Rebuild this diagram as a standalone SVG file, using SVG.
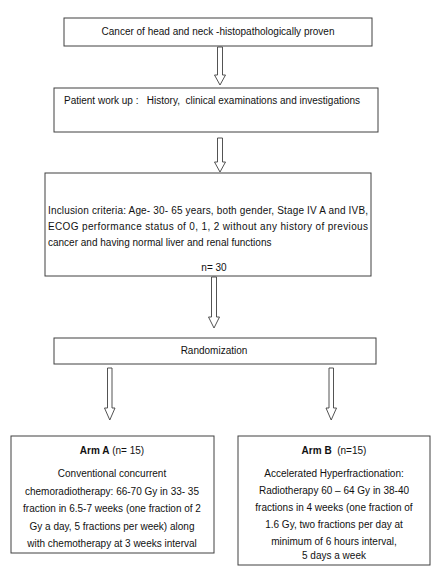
<svg xmlns="http://www.w3.org/2000/svg" width="440" height="570" viewBox="0 0 440 570">
<style>
.box{fill:#fff;stroke:#404040;stroke-width:1}
.arr{fill:#fff;stroke:#404040;stroke-width:0.9}
text{font-family:"Liberation Sans",Arial,sans-serif;font-size:10px;fill:#111}
.c{text-anchor:middle}
.b{font-weight:bold}
</style>
<rect width="440" height="570" fill="#fff"/>
<g id="connectors">
<polygon class="arr" points="217.5,47 222.5,47 222.5,75 225.5,75 220,85 214.5,75 217.5,75"/>
<polygon class="arr" points="217.5,138 222.5,138 222.5,162 225.5,162 220,172 214.5,162 217.5,162"/>
<polygon class="arr" points="211.5,277 216.5,277 216.5,317 219.5,317 214,328 208.5,317 211.5,317"/>
<polygon class="arr" points="107.5,368 112,368 112,408 115,408 109.8,420 104.5,408 107.5,408"/>
<polygon class="arr" points="329,368 333.5,368 333.5,408 336.5,408 331.2,420 326,408 329,408"/>
</g>
<g id="n1">
<rect class="box" x="64" y="18" width="308" height="28"/>
<text class="c" x="218" y="35">Cancer of head and neck -histopathologically proven</text>
</g>
<g id="n2">
<rect class="box" x="54" y="88" width="324" height="44"/>
<text x="64" y="104" xml:space="preserve">Patient work up :   History,  clinical examinations and investigations</text>
</g>
<g id="n3">
<rect class="box" x="45" y="173" width="326" height="103"/>
<text x="48" y="214" textLength="320">Inclusion criteria: Age- 30- 65 years, both gender, Stage IV A and IVB,</text>
<text x="48" y="230" textLength="320">ECOG performance status of 0, 1, 2 without any history of previous</text>
<text x="48" y="246">cancer and having normal liver and renal functions</text>
<text class="c" x="214" y="271">n= 30</text>
</g>
<g id="n4">
<rect class="box" x="54" y="338" width="322" height="26"/>
<text class="c" x="214" y="354">Randomization</text>
</g>
<g id="n5">
<rect class="box" x="11" y="436" width="203" height="117"/>
<text class="c" x="112" y="454"><tspan class="b">Arm A</tspan> (n= 15)</text>
<text class="c" x="112" y="477">Conventional concurrent</text>
<text class="c" x="112" y="495">chemoradiotherapy: 66-70 Gy in 33- 35</text>
<text class="c" x="112" y="512">fraction in 6.5-7 weeks (one fraction of 2</text>
<text class="c" x="112" y="530">Gy a day, 5 fractions per week) along</text>
<text class="c" x="112" y="547">with chemotherapy at 3 weeks interval</text>
</g>
<g id="n6">
<rect class="box" x="238" y="436" width="192" height="129"/>
<text class="c" x="334" y="454" xml:space="preserve"><tspan class="b">Arm B</tspan>  (n=15)</text>
<text class="c" x="334" y="477">Accelerated Hyperfractionation:</text>
<text class="c" x="334" y="494">Radiotherapy 60 – 64 Gy in 38-40</text>
<text class="c" x="334" y="511">fractions in 4 weeks (one fraction of</text>
<text class="c" x="334" y="528">1.6 Gy, two fractions per day at</text>
<text class="c" x="334" y="545">minimum of 6 hours interval,</text>
<text class="c" x="334" y="559">5 days a week</text>
</g>
</svg>
